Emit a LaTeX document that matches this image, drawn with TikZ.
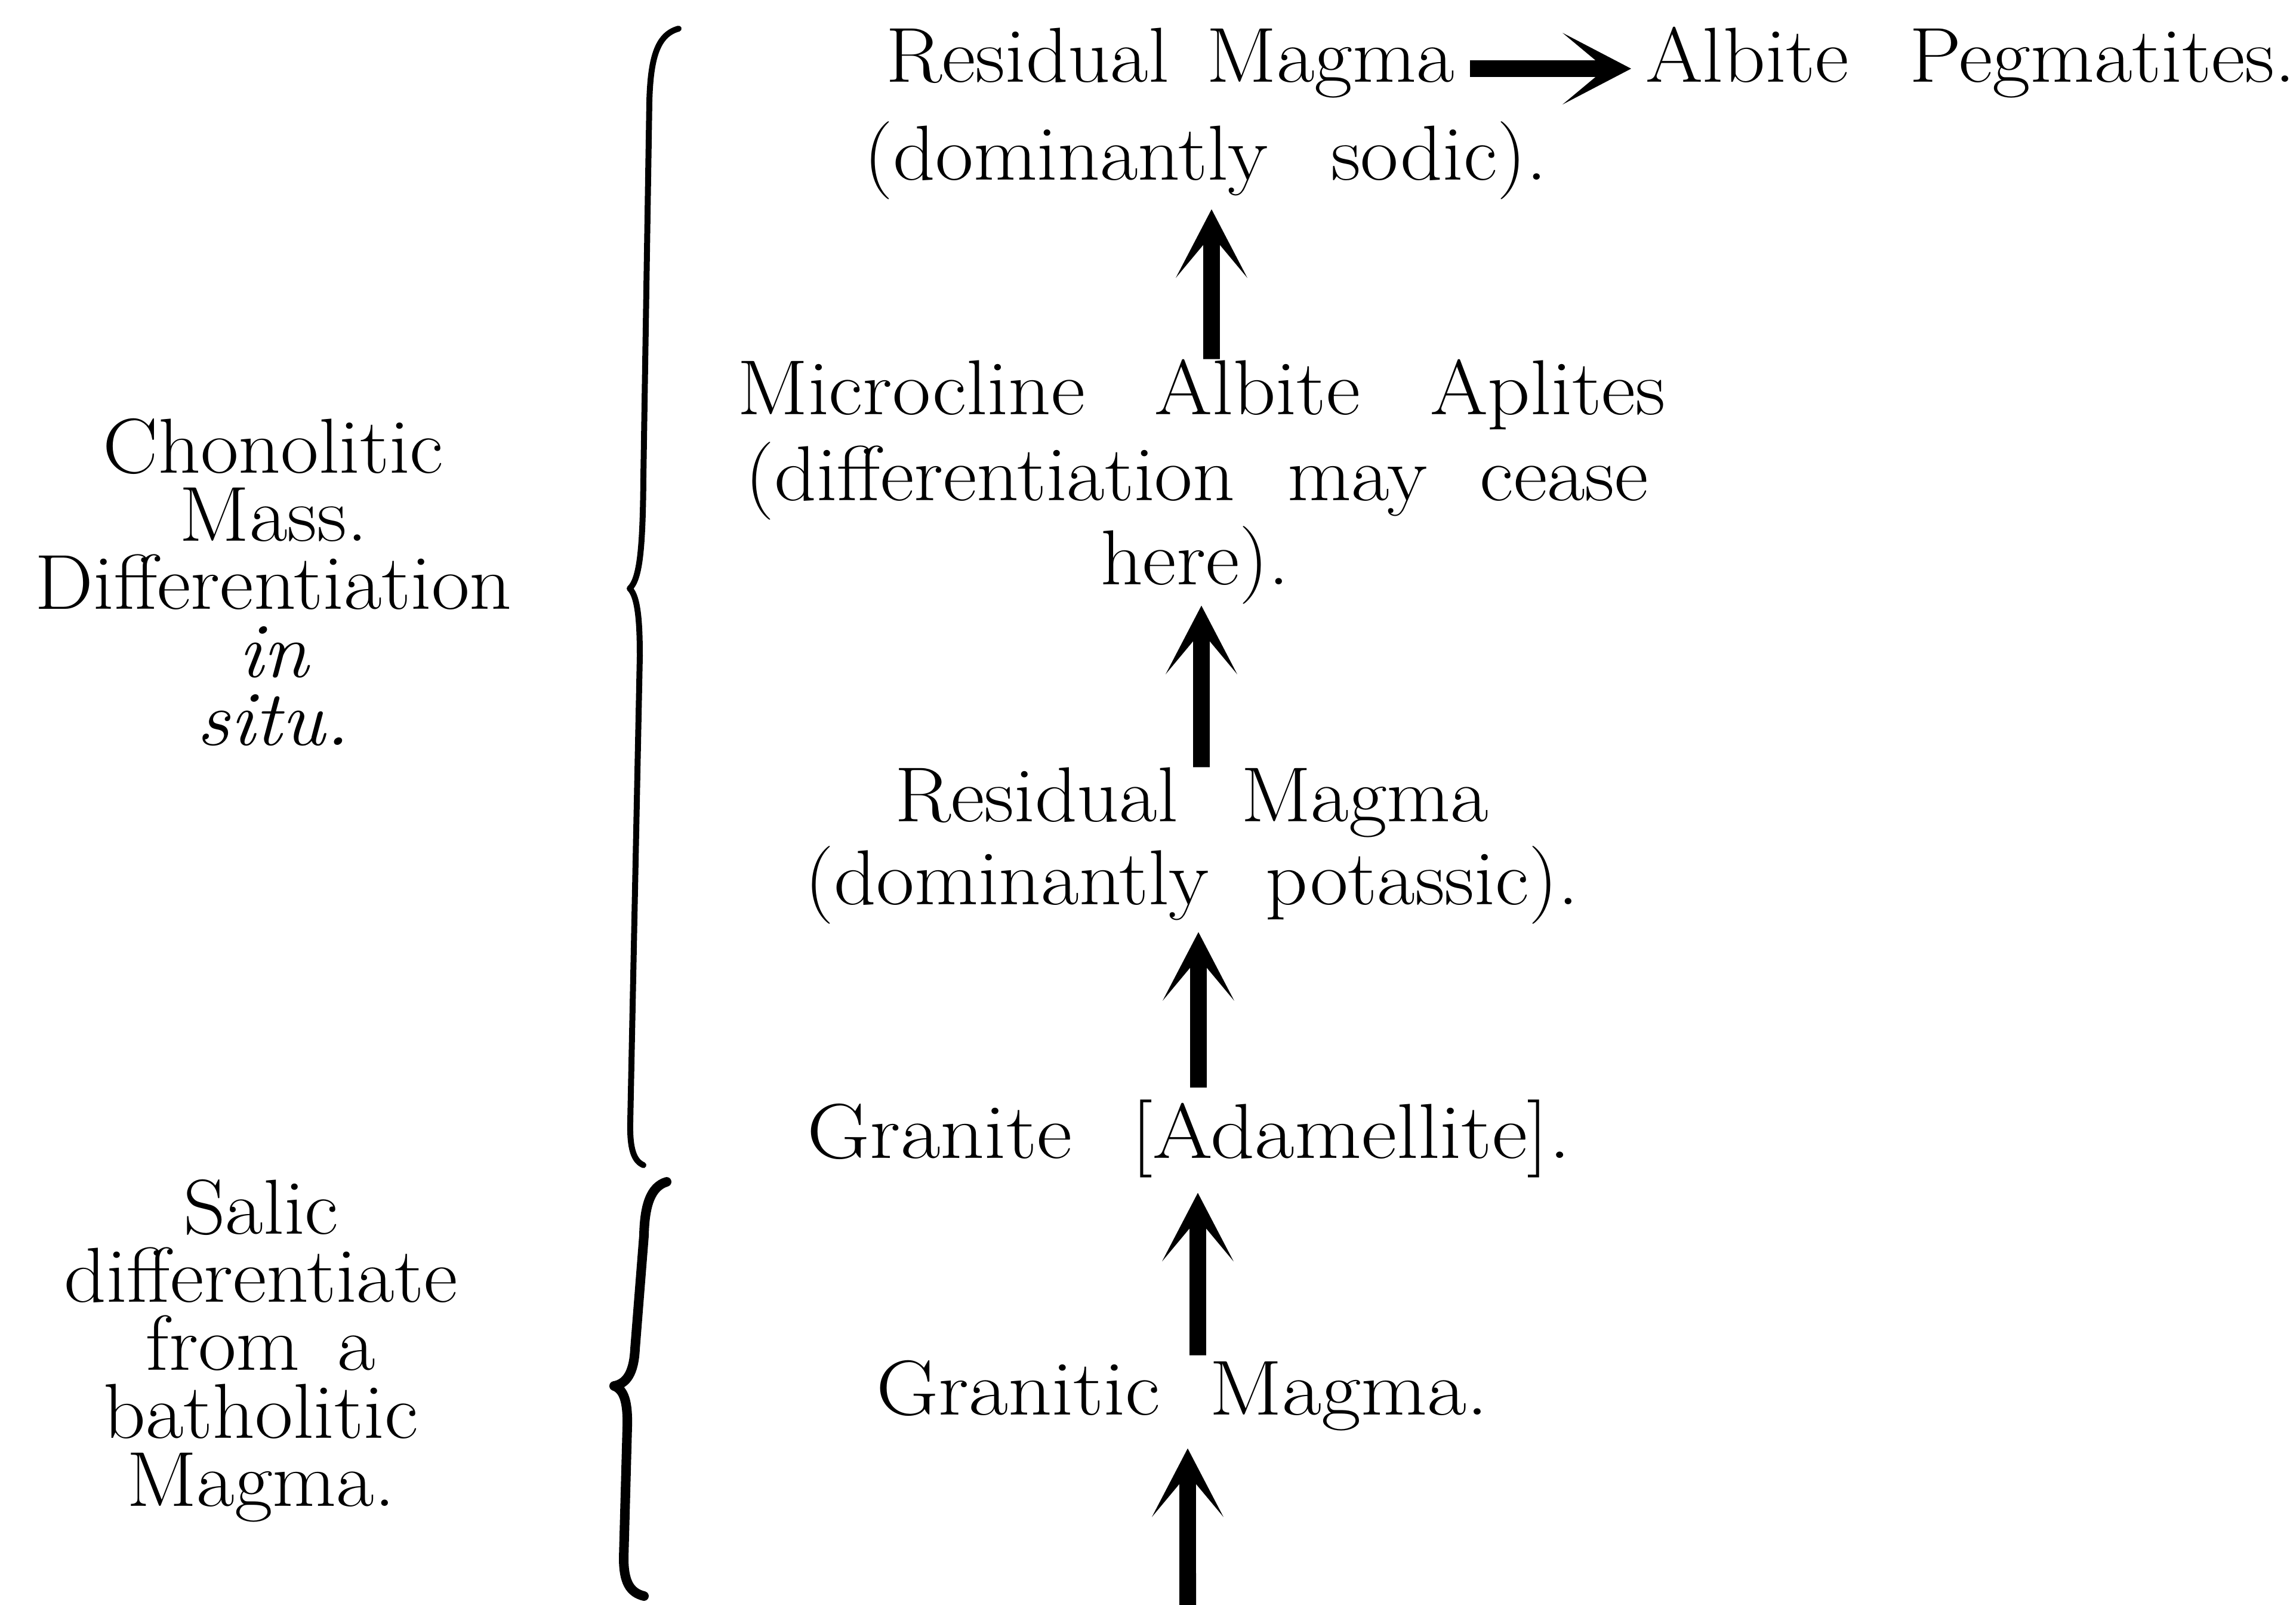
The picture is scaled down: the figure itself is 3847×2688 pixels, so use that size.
\documentclass[tikz,border=0pt]{standalone}
\usepackage{graphicx}
\usetikzlibrary{arrows.meta}
\newcommand{\wtxt}[1]{\scalebox{1.06}[1]{#1}}
\newcommand{\wtxtx}[2]{\scalebox{#1}[1]{#2}}
\begin{document}
\begin{tikzpicture}[x=0.005cm, y=-0.005cm,
  txt/.style={font=\fontsize{18.6}{20}\selectfont, inner sep=0pt, outer sep=0pt, anchor=base},
  blk/.style={font=\fontsize{18.6}{16.2}\selectfont, align=center, inner sep=0pt, outer sep=0pt, anchor=base},
  varrow/.style={line width=0.14cm, -{Stealth[length=0.575cm, width=0.6cm, inset=0.36cm, line width=0pt]}},
  bracepath/.style={line width=0.05cm, line cap=round, line join=round}]
\useasboundingbox[fill=white] (0,0) rectangle (3847,2688);

% centre column
\node[txt, anchor=base east] (rmA) at (2437,137) {\wtxt{Residual\hspace{0.1cm} Magma}};
\node[txt, anchor=base west] (alb) at (2757,137) {\wtxt{Albite\hspace{0.28cm} Pegmatites.}};
\node[txt] (sodic) at (2020,301) {\wtxt{(dominantly\hspace{0.3cm} sodic).}};
\node[txt] (micro) at (2013,694) {\wtxtx{1.07}{Microcline\hspace{0.35cm} Albite\hspace{0.35cm} Aplites}};
\node[txt] (diff) at (2005,838) {\wtxt{(differentiation\hspace{0.22cm} may\hspace{0.22cm} cease}};
\node[txt] (here) at (2002,979) {\wtxt{here).}};
\node[txt] (rmB) at (1997,1376) {\wtxt{Residual\hspace{0.3cm} Magma}};
\node[txt] (pot) at (1997,1515) {\wtxt{(dominantly\hspace{0.25cm} potassic).}};
\node[txt] (gran) at (1992,1940) {\wtxtx{1.11}{Granite\hspace{0.25cm} [Adamellite].}};
\node[txt] (granitic) at (1981,2370) {\wtxtx{1.1}{Granitic\hspace{0.18cm} Magma.}};
\coordinate (src) at (1990,2700);

% left labels (base = baseline of last line)
\node[blk] (chon) at (458,1248) {\wtxt{Chonolitic}\\\wtxt{Mass.}\\\wtxt{Differentiation}\\\wtxt{\itshape in}\\\wtxt{\itshape situ.}};
\node[blk] (salic) at (437,2523) {\wtxt{Salic}\\\wtxt{differentiate}\\\wtxt{from\hspace{0.1cm} a}\\\wtxt{batholitic}\\\wtxt{Magma.}};

% braces
\draw[bracepath] (1137,48) .. controls (1100,58) and (1090,100) .. (1088,170)
  -- (1078,800) .. controls (1077,920) and (1072,970) .. (1055,986)
  .. controls (1070,1000) and (1072,1050) .. (1072,1100)
  -- (1056,1880) .. controls (1055,1925) and (1062,1945) .. (1078,1952);
\draw[bracepath, line width=0.08cm] (1117,1980) .. controls (1090,1988) and (1080,2020) .. (1079,2070)
  -- (1064,2260) .. controls (1062,2300) and (1050,2318) .. (1029,2322)
  .. controls (1046,2328) and (1052,2350) .. (1051,2390)
  -- (1045,2610) .. controls (1045,2650) and (1055,2668) .. (1079,2674);

% arrows
\draw[varrow, shorten <=0.13cm, shorten >=0.12cm] ([yshift=0.11cm]rmA.base east) -- ([yshift=0.11cm]alb.base west);
\draw[varrow, shorten >=0.085cm] ([xshift=0.085cm]micro.north) -- ([xshift=0.05cm]sodic.south);
\draw[varrow, shorten >=0.015cm] ([xshift=0.08cm]rmB.north) -- ([xshift=0.055cm]here.south);
\draw[varrow, shorten <=0.1cm, shorten >=0.07cm] ([xshift=0.08cm]gran.north) -- ([xshift=0.055cm]pot.south);
\draw[varrow, shorten <=0.04cm, shorten >=0.13cm] ([xshift=0.13cm]granitic.north) -- ([xshift=0.075cm]gran.south);
\draw[varrow, shorten >=0.15cm] (src) -- ([xshift=0.045cm]granitic.south);
\end{tikzpicture}
\end{document}
